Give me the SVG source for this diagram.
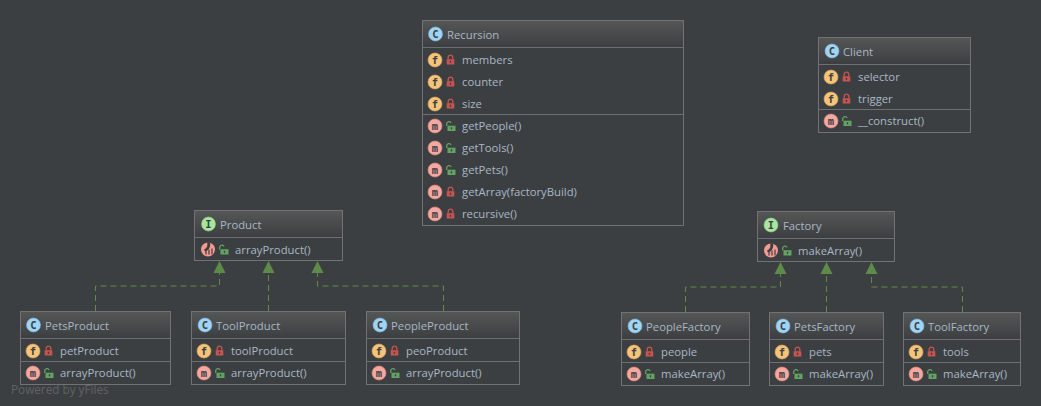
<svg xmlns="http://www.w3.org/2000/svg" width="1041" height="406" viewBox="0 0 1041 406">
<style>
.b{fill:#3c3f41;stroke:#707273;stroke-width:1}
.l{stroke:#6d6f70;stroke-width:1;fill:none}
text{font-family:"Open Sans","Noto Sans","Liberation Sans",sans-serif;font-size:11.3px;fill:#a9b7c6}
.e{fill:none;stroke:#5e8a4a;stroke-width:1;stroke-dasharray:6 4}
.a{fill:#5e8a4a}
.g{font-family:"DejaVu Sans Mono",monospace;font-size:10.5px;font-weight:700;fill:#3c3f41;text-anchor:middle}
</style>
<defs>
<linearGradient id="h" x1="0" y1="0" x2="0" y2="1"><stop offset="0" stop-color="#555656"/><stop offset="1" stop-color="#3c3f41"/></linearGradient>
<g id="ic"><circle r="7" fill="#9fd4f5" stroke="#7fb4dc" stroke-width=".6"/><text class="g" y="3.7">C</text></g>
<g id="ii"><circle r="7" fill="#a8e6a0" stroke="#8ccb88" stroke-width=".6"/><text class="g" y="3.7">I</text></g>
<g id="if"><circle r="7" fill="#f5c37a" stroke="#dca85c" stroke-width=".6"/><text class="g" y="3.7">f</text></g>
<g id="im"><circle r="7" fill="#f5a8a0" stroke="#dc8c84" stroke-width=".6"/><text class="g" y="3.7">m</text></g>
<g id="ia"><circle r="7" fill="#f59a90"/><path d="M-1,-7.2C0,-4 -1,-1 -4,0L-3,2C1,1 3,-3 2,-7.2Z" fill="#3c3f41"/><path d="M-2,1.5V5M1,0V5M4,-1V5" stroke="#3c3f41" stroke-width="1.2" fill="none"/></g>
<g id="pr"><rect x="-3.8" y="-0.8" width="7.6" height="5.3" fill="#c75450"/><path d="M-2.3,-0.8V-2.6a2.3,2.3 0 0 1 4.6,0V-0.8" fill="none" stroke="#c75450" stroke-width="1.3"/><rect x="-0.7" y="0.8" width="1.4" height="2" fill="#3c3f41"/></g>
<g id="pu"><rect x="-3" y="-0.3" width="8" height="5.3" fill="#62a362"/><path d="M-3.8,0V-2.2a2.3,2.3 0 0 1 4.4,-0.8" fill="none" stroke="#62a362" stroke-width="1.3"/><rect x="0.3" y="1.3" width="1.4" height="2" fill="#3c3f41"/></g>
<path id="t" class="a" d="M-6,12 L0,0 L6,12 Z"/>
</defs>
<rect width="1041" height="406" fill="#3c3f41"/>
<text x="11" y="394" style="font-size:11.75px;fill:#5f6264">Powered by yFiles</text>

<g id="connectors">
<path class="e" d="M95.5,311V286H219.5V273"/><use href="#t" x="219.5" y="261"/>
<path class="e" d="M268.5,311V273"/><use href="#t" x="268.5" y="261"/>
<path class="e" d="M443.5,311V286H317.5V273"/><use href="#t" x="317.5" y="261"/>
<path class="e" d="M685.5,312V287H780.5V274"/><use href="#t" x="780.5" y="262"/>
<path class="e" d="M826.5,312V274"/><use href="#t" x="826.5" y="262"/>
<path class="e" d="M962.5,312V287H871.5V274"/><use href="#t" x="871.5" y="262"/>
</g>

<g id="Recursion">
<rect class="b" x="422.5" y="20.5" width="261" height="205"/><rect x="423" y="21" width="260" height="26" fill="url(#h)"/>
<path class="l" d="M423,47.5H683M423,114.5H683"/>
<use href="#ic" x="435.5" y="34"/><text x="447" y="39">Recursion</text>
<use href="#if" x="435" y="60"/><use href="#pr" x="450.5" y="60"/><text x="462" y="64">members</text>
<use href="#if" x="435" y="82"/><use href="#pr" x="450.5" y="82"/><text x="462" y="86">counter</text>
<use href="#if" x="435" y="104"/><use href="#pr" x="450.5" y="104"/><text x="462" y="108">size</text>
<use href="#im" x="435" y="126"/><use href="#pu" x="450.5" y="126"/><text x="462" y="130">getPeople()</text>
<use href="#im" x="435" y="148"/><use href="#pu" x="450.5" y="148"/><text x="462" y="152">getTools()</text>
<use href="#im" x="435" y="170"/><use href="#pu" x="450.5" y="170"/><text x="462" y="174">getPets()</text>
<use href="#im" x="435" y="192"/><use href="#pr" x="450.5" y="192"/><text x="462" y="196">getArray(factoryBuild)</text>
<use href="#im" x="435" y="214"/><use href="#pr" x="450.5" y="214"/><text x="462" y="218">recursive()</text>
</g>

<g id="Client">
<rect class="b" x="818.5" y="37.5" width="152" height="95"/><rect x="819" y="38" width="151" height="26" fill="url(#h)"/>
<path class="l" d="M819,64.5H970M819,109.5H970"/>
<use href="#ic" x="832" y="51"/><text x="843" y="56">Client</text>
<use href="#if" x="831" y="77"/><use href="#pr" x="846.5" y="77"/><text x="858" y="81">selector</text>
<use href="#if" x="831" y="99"/><use href="#pr" x="846.5" y="99"/><text x="858" y="103">trigger</text>
<use href="#im" x="831" y="121"/><use href="#pu" x="846.5" y="121"/><text x="858" y="125">__construct()</text>
</g>

<g id="Product">
<rect class="b" x="194.5" y="210.5" width="148" height="50"/><rect x="195" y="211" width="147" height="26" fill="url(#h)"/>
<path class="l" d="M195,237.5H342"/>
<use href="#ii" x="208.5" y="224"/><text x="220" y="229">Product</text>
<use href="#ia" x="208" y="249.500"/><use href="#pu" x="223.5" y="249.500"/><text x="235" y="254">arrayProduct()</text>
</g>

<g id="Factory">
<rect class="b" x="757.5" y="211.5" width="137" height="50"/><rect x="758" y="212" width="136" height="26" fill="url(#h)"/>
<path class="l" d="M758,238.5H894"/>
<use href="#ii" x="771" y="225"/><text x="783" y="230">Factory</text>
<use href="#ia" x="771" y="250.500"/><use href="#pu" x="786.5" y="250.500"/><text x="798" y="255">makeArray()</text>
</g>

<g id="PetsProduct">
<rect class="b" x="20.5" y="311.500" width="150" height="73"/><rect x="21" y="312" width="149" height="26" fill="url(#h)"/>
<path class="l" d="M21,338.5H170M21,361.5H170"/>
<use href="#ic" x="33.5" y="325"/><text x="45" y="330">PetsProduct</text>
<use href="#if" x="33" y="351"/><use href="#pr" x="48.5" y="351"/><text x="60" y="355">petProduct</text>
<use href="#im" x="33" y="373"/><use href="#pu" x="48.5" y="373"/><text x="60" y="377">arrayProduct()</text>
</g>

<g id="ToolProduct">
<rect class="b" x="191.5" y="311.5" width="154" height="73"/><rect x="192" y="312" width="153" height="26" fill="url(#h)"/>
<path class="l" d="M192,338.5H345M192,361.5H345"/>
<use href="#ic" x="205" y="325"/><text x="216" y="330">ToolProduct</text>
<use href="#if" x="204" y="351"/><use href="#pr" x="219.5" y="351"/><text x="231" y="355">toolProduct</text>
<use href="#im" x="204" y="373"/><use href="#pu" x="219.5" y="373"/><text x="231" y="377">arrayProduct()</text>
</g>

<g id="PeopleProduct">
<rect class="b" x="366.5" y="311.5" width="153" height="73"/><rect x="367" y="312" width="152" height="26" fill="url(#h)"/>
<path class="l" d="M367,338.5H519M367,361.5H519"/>
<use href="#ic" x="380" y="325"/><text x="391" y="330">PeopleProduct</text>
<use href="#if" x="379" y="351"/><use href="#pr" x="394.5" y="351"/><text x="406" y="355">peoProduct</text>
<use href="#im" x="379" y="373"/><use href="#pu" x="394.5" y="373"/><text x="406" y="377">arrayProduct()</text>
</g>

<g id="PeopleFactory">
<rect class="b" x="621.5" y="312.5" width="128" height="73"/><rect x="622" y="313" width="127" height="26" fill="url(#h)"/>
<path class="l" d="M622,339.5H749M622,362.5H749"/>
<use href="#ic" x="635" y="326"/><text x="646" y="331">PeopleFactory</text>
<use href="#if" x="634" y="352"/><use href="#pr" x="649.5" y="352"/><text x="661" y="356">people</text>
<use href="#im" x="634" y="374"/><use href="#pu" x="649.5" y="374"/><text x="661" y="378">makeArray()</text>
</g>

<g id="PetsFactory">
<rect class="b" x="769.5" y="312.5" width="114" height="73"/><rect x="770" y="313" width="113" height="26" fill="url(#h)"/>
<path class="l" d="M770,339.5H883M770,362.5H883"/>
<use href="#ic" x="783" y="326"/><text x="794" y="331">PetsFactory</text>
<use href="#if" x="782" y="352"/><use href="#pr" x="797.5" y="352"/><text x="809" y="356">pets</text>
<use href="#im" x="782" y="374"/><use href="#pu" x="797.5" y="374"/><text x="809" y="378">makeArray()</text>
</g>

<g id="ToolFactory">
<rect class="b" x="903.5" y="312.5" width="117" height="73"/><rect x="904" y="313" width="116" height="26" fill="url(#h)"/>
<path class="l" d="M904,339.5H1020M904,362.5H1020"/>
<use href="#ic" x="917" y="326"/><text x="928" y="331">ToolFactory</text>
<use href="#if" x="916" y="352"/><use href="#pr" x="931.5" y="352"/><text x="943" y="356">tools</text>
<use href="#im" x="916" y="374"/><use href="#pu" x="931.5" y="374"/><text x="943" y="378">makeArray()</text>
</g>
</svg>
